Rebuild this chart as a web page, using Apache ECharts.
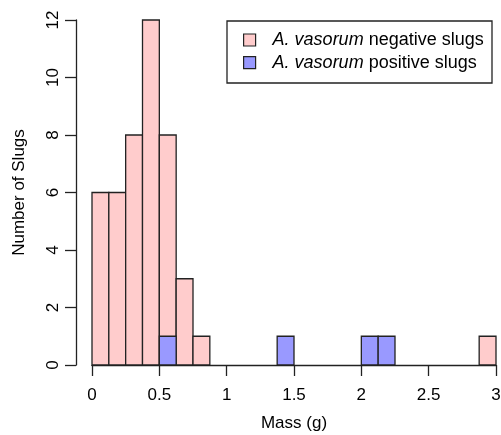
<!DOCTYPE html>
<html>
<head>
<meta charset="utf-8">
<script src="https://cdn.jsdelivr.net/npm/echarts@6/dist/echarts.min.js"></script>
<style>html,body{margin:0;padding:0;background:#fff}#c{width:501px;height:435px}</style>
</head>
<body>
<div id="c"></div>
<script>
// Histogram data (bin left edges, bin width 0.125 g)
var binWidth = 0.125;
var negBinLeft = [0, 0.125, 0.25, 0.375, 0.5, 0.625, 0.75, 2.875];
var negCounts  = [6, 6, 8, 12, 8, 3, 1, 1];
var posBinLeft = [0.5, 1.375, 2.0, 2.125];
var posCounts  = [1, 1, 1, 1];
var xTicks = [0, 0.5, 1, 1.5, 2, 2.5, 3];
var yTicks = [0, 2, 4, 6, 8, 10, 12];
var negName = 'A. vasorum negative slugs';
var posName = 'A. vasorum positive slugs';

var FONT = 'Liberation Sans, Arial, Helvetica, sans-serif';
var chart = echarts.init(document.getElementById('c'));

function makeData(lefts, counts) {
  return lefts.map(function (l, i) { return [l, l + binWidth, counts[i]]; });
}
function renderBar(params, api) {
  var p0 = api.coord([api.value(0), api.value(2)]);
  var p1 = api.coord([api.value(1), 0]);
  return {
    type: 'rect',
    shape: { x: p0[0], y: p0[1], width: p1[0] - p0[0], height: p1[1] - p0[1] },
    style: { fill: api.visual('color'), stroke: '#222', lineWidth: 1.3 }
  };
}
var axisLineStyle = { color: '#222', width: 1.3 };

chart.setOption({
  animation: false,
  backgroundColor: '#fff',
  grid: [
    { left: 76, right: 5, top: 20, bottom: 70, containLabel: false, outerBoundsMode: 'none' },
    { left: 92, right: 5, top: 20, bottom: 70, containLabel: false, outerBoundsMode: 'none' }
  ],
  xAxis: [
    { gridIndex: 0, type: 'value', min: -0.1188, max: 3, show: false },
    {
      gridIndex: 1, type: 'value', min: 0, max: 3, interval: 0.5,
      splitLine: { show: false },
      axisLine: { show: true, onZero: false, lineStyle: axisLineStyle },
      axisTick: { show: true, length: 11, lineStyle: axisLineStyle },
      axisLabel: {
        color: '#000', fontSize: 17, fontFamily: FONT, margin: 22,
        customValues: xTicks,
        formatter: function (v) { return String(v); }
      },
      name: 'Mass (g)', nameLocation: 'middle', nameGap: 50,
      nameTextStyle: { color: '#000', fontSize: 17, fontFamily: FONT }
    }
  ],
  yAxis: [
    {
      gridIndex: 0, type: 'value', min: 0, max: 12, interval: 2,
      splitLine: { show: false },
      axisLine: { show: true, onZero: false, lineStyle: axisLineStyle },
      axisTick: { show: true, length: 11, lineStyle: axisLineStyle },
      axisLabel: {
        color: '#000', fontSize: 17, fontFamily: FONT, rotate: 90, margin: 14,
        customValues: yTicks
      },
      name: 'Number of Slugs', nameLocation: 'middle', nameGap: 48,
      nameTextStyle: { color: '#000', fontSize: 17, fontFamily: FONT }
    },
    { gridIndex: 1, type: 'value', min: 0, max: 12, show: false }
  ],
  legend: {
    orient: 'vertical', left: 243, top: 30, padding: 0, itemGap: 2.6,
    itemWidth: 12, itemHeight: 12, icon: 'rect',
    data: [
      { name: negName, itemStyle: { color: '#FFCCCC', borderColor: '#222', borderWidth: 1.2 } },
      { name: posName, itemStyle: { color: '#9999FF', borderColor: '#222', borderWidth: 1.2 } }
    ],
    formatter: function (n) {
      return n === negName ? '{i|A. vasorum} negative slugs' : '{i|A. vasorum} positive slugs';
    },
    textStyle: {
      color: '#000', fontSize: 18, fontFamily: FONT, lineHeight: 20, padding: [0, 0, 0, 12],
      rich: { i: { fontStyle: 'italic', fontSize: 18, fontFamily: FONT, color: '#000' } }
    },
    selectedMode: false
  },
  graphic: [{
    type: 'rect', z: -1,
    shape: { x: 227, y: 21, width: 265, height: 62 },
    style: { fill: '#fff', stroke: '#222', lineWidth: 1.3 }
  }],
  series: [
    { name: negName, type: 'custom', renderItem: renderBar, clip: false,
      xAxisIndex: 0, yAxisIndex: 0,
      itemStyle: { color: '#FFCCCC' }, encode: { x: [0, 1], y: 2 },
      data: makeData(negBinLeft, negCounts) },
    { name: posName, type: 'custom', renderItem: renderBar, clip: false,
      xAxisIndex: 0, yAxisIndex: 0,
      itemStyle: { color: '#9999FF' }, encode: { x: [0, 1], y: 2 },
      data: makeData(posBinLeft, posCounts) }
  ]
});
</script>
</body>
</html>
